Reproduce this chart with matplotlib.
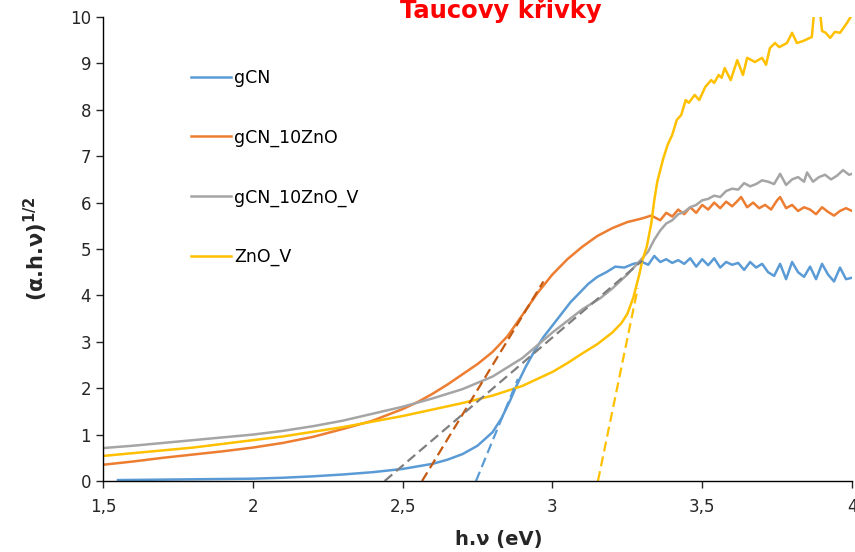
import matplotlib

matplotlib.use("Agg")
import matplotlib.pyplot as plt

plt.rcParams["font.family"] = ["DejaVu Sans"]

# --- gCN (blue) ---
gcn_x = [1.55, 1.7, 1.85, 2.0, 2.1, 2.2, 2.3, 2.4, 2.5, 2.6, 2.65, 2.7, 2.75, 2.8,
         2.83, 2.86, 2.88, 2.91, 2.94, 2.97, 3.0, 3.03, 3.06, 3.09, 3.12, 3.15, 3.18,
         3.21, 3.24, 3.27, 3.3, 3.32, 3.34, 3.36, 3.38, 3.40, 3.42, 3.44, 3.46, 3.48,
         3.50, 3.52, 3.54, 3.56, 3.58, 3.60, 3.62, 3.64, 3.66, 3.68, 3.70, 3.72, 3.74,
         3.76, 3.78, 3.80, 3.82, 3.84, 3.86, 3.88, 3.90, 3.92, 3.94, 3.96, 3.98, 4.0]
gcn_y = [0.02, 0.03, 0.04, 0.05, 0.07, 0.1, 0.14, 0.19, 0.26, 0.37, 0.46, 0.58, 0.76, 1.05,
         1.35, 1.75, 2.05, 2.45, 2.8, 3.1, 3.35, 3.6, 3.85, 4.05, 4.25, 4.4, 4.5,
         4.62, 4.6, 4.68, 4.72, 4.66, 4.85, 4.72, 4.78, 4.7, 4.76, 4.68, 4.8, 4.62,
         4.78, 4.65, 4.8, 4.6, 4.72, 4.66, 4.7, 4.55, 4.72, 4.6, 4.68, 4.5, 4.42,
         4.68, 4.35, 4.72, 4.5, 4.4, 4.62, 4.35, 4.68, 4.45, 4.3, 4.6, 4.35, 4.38]

# --- gCN_10ZnO (orange) ---
zno10_x = [1.5, 1.6, 1.7, 1.8, 1.9, 2.0, 2.1, 2.2, 2.3, 2.4, 2.5, 2.55, 2.6, 2.65, 2.7,
           2.75, 2.8, 2.85, 2.9, 2.95, 3.0, 3.05, 3.1, 3.15, 3.2, 3.25, 3.3, 3.33, 3.36,
           3.38, 3.40, 3.42, 3.44, 3.46, 3.48, 3.50, 3.52, 3.54, 3.56, 3.58, 3.60, 3.62,
           3.63, 3.65, 3.67, 3.69, 3.71, 3.73, 3.75, 3.76, 3.78, 3.80, 3.82, 3.84, 3.86,
           3.88, 3.90, 3.92, 3.94, 3.96, 3.98, 4.0]
zno10_y = [0.35, 0.42, 0.5, 0.57, 0.64, 0.72, 0.82, 0.95, 1.12, 1.3, 1.55, 1.7, 1.88, 2.08, 2.3,
           2.52, 2.78, 3.12, 3.58, 4.05, 4.45, 4.78, 5.05, 5.28, 5.45, 5.58, 5.66, 5.72, 5.62,
           5.78, 5.7, 5.85, 5.75, 5.9, 5.78, 5.95, 5.85, 6.0, 5.88, 6.02, 5.92, 6.05,
           6.12, 5.9, 6.0, 5.88, 5.95, 5.85, 6.05, 6.12, 5.88, 5.95, 5.82, 5.9, 5.85,
           5.75, 5.9, 5.8, 5.72, 5.82, 5.88, 5.82]

# --- gCN_10ZnO_V (grey) ---
zno10v_x = [1.5, 1.6, 1.7, 1.8, 1.9, 2.0, 2.1, 2.2, 2.3, 2.4, 2.5, 2.6, 2.7, 2.8, 2.9, 3.0,
            3.1, 3.16, 3.2, 3.25, 3.3, 3.32, 3.34, 3.36, 3.38, 3.40, 3.42, 3.44, 3.46,
            3.48, 3.50, 3.52, 3.54, 3.56, 3.58, 3.60, 3.62, 3.64, 3.66, 3.68, 3.70, 3.72,
            3.74, 3.76, 3.78, 3.80, 3.82, 3.84, 3.85, 3.87, 3.89, 3.91, 3.93, 3.95, 3.97,
            3.99, 4.0]
zno10v_y = [0.71, 0.76, 0.82, 0.88, 0.94, 1.0, 1.08, 1.18, 1.3, 1.45, 1.6, 1.78, 1.98, 2.25, 2.65, 3.2,
            3.7, 3.94, 4.15, 4.45, 4.8, 4.95, 5.2, 5.4, 5.55, 5.62, 5.75, 5.8, 5.9,
            5.95, 6.05, 6.08, 6.15, 6.12, 6.25, 6.3, 6.28, 6.42, 6.35, 6.4, 6.48, 6.45,
            6.4, 6.62, 6.38, 6.5, 6.55, 6.45, 6.65, 6.45, 6.55, 6.6, 6.5, 6.58, 6.7,
            6.6, 6.62]

# --- ZnO_V (yellow) ---
znov_x = [1.5, 1.6, 1.7, 1.8, 1.9, 2.0, 2.1, 2.2, 2.3, 2.4, 2.5, 2.6, 2.7, 2.8, 2.9, 3.0,
          3.05, 3.1, 3.15, 3.2, 3.23, 3.25, 3.27, 3.29, 3.30, 3.315, 3.33, 3.34, 3.35, 3.36,
          3.37, 3.385, 3.40, 3.415, 3.43, 3.445, 3.455, 3.475, 3.49, 3.51, 3.53, 3.54,
          3.555, 3.565, 3.575, 3.595, 3.617, 3.636, 3.65, 3.676, 3.70, 3.713, 3.726,
          3.743, 3.757, 3.783, 3.80, 3.816, 3.836, 3.866, 3.876, 3.89, 3.90, 3.912,
          3.927, 3.943, 3.96, 3.983, 4.0]
znov_y = [0.54, 0.6, 0.66, 0.72, 0.8, 0.88, 0.96, 1.06, 1.16, 1.28, 1.4, 1.54, 1.68, 1.84, 2.05, 2.35,
          2.54, 2.75, 2.95, 3.2, 3.4, 3.6, 3.95, 4.45, 4.75, 5.05, 5.55, 6.05, 6.45, 6.7,
          6.95, 7.25, 7.46, 7.78, 7.89, 8.21, 8.15, 8.32, 8.21, 8.49, 8.64, 8.58,
          8.75, 8.69, 8.9, 8.64, 9.07, 8.75, 9.12, 9.03, 9.12, 8.97, 9.33,
          9.44, 9.35, 9.44, 9.66, 9.44, 9.48, 9.57, 10.3, 10.3, 9.7, 9.66,
          9.55, 9.68, 9.66, 9.87, 10.05]

# tangent (Tauc extrapolation) lines: x-intercept -> end point
tan_blue = ([2.745, 2.885], [0, 2.2])
tan_orange = ([2.565, 2.97], [0, 4.3])
tan_grey = ([2.44, 3.30], [0, 4.75])
tan_yellow = ([3.152, 3.285], [0, 4.16])

xticks = [1.5, 2, 2.5, 3, 3.5, 4]
xtick_labels = ["1,5", "2", "2,5", "3", "3,5", "4"]
yticks = list(range(0, 11))

BLUE, ORANGE, GREY, YELLOW = "#5B9BD5", "#ED7D31", "#A5A5A5", "#FFC000"
TXT = "#262626"

fig = plt.figure(figsize=(8.55, 5.52), dpi=100)
ax = fig.add_axes([103 / 855, 71 / 552, 749 / 855, 464 / 552])

lw = 1.8
ax.plot(gcn_x, gcn_y, color=BLUE, lw=lw, label="gCN")
ax.plot(zno10_x, zno10_y, color=ORANGE, lw=lw, label="gCN_10ZnO")
ax.plot(zno10v_x, zno10v_y, color=GREY, lw=lw, label="gCN_10ZnO_V")
ax.plot(znov_x, znov_y, color=YELLOW, lw=lw, label="ZnO_V")

dash = (0, (4.5, 2.3))
ax.plot(*tan_blue, color=BLUE, lw=1.6, linestyle=dash)
ax.plot(*tan_orange, color="#C55A11", lw=1.6, linestyle=dash)
ax.plot(*tan_grey, color="#7F7F7F", lw=1.6, linestyle=dash)
ax.plot(*tan_yellow, color=YELLOW, lw=1.6, linestyle=dash)

ax.set_xlim(1.5, 4)
ax.set_ylim(0, 10)
ax.set_xticks(xticks)
ax.set_xticklabels(xtick_labels)
ax.set_yticks(yticks)
ax.tick_params(labelsize=12, colors=TXT, length=5, width=1, direction="out")
ax.tick_params(axis="x", pad=7)
for s in ("top", "right"):
    ax.spines[s].set_visible(False)
for s in ("left", "bottom"):
    ax.spines[s].set_linewidth(1)

ax.set_xlabel("h.ν (eV)", fontsize=14, fontweight="bold", color=TXT)
ax.xaxis.set_label_coords(0.529, -0.105)
ax.set_ylabel(r"(α.h.ν)$^{\mathbf{1/2}}$", fontsize=15, fontweight="bold", color=TXT)
ax.yaxis.set_label_coords(-0.071, 0.5)

ax.legend(loc="upper left", bbox_to_anchor=((191 - 103) / 749, (481 - 69) / 464),
          frameon=False, fontsize=12.5, handlelength=2.3, handletextpad=0.2,
          labelspacing=2.39, borderpad=0, borderaxespad=0)

fig.text(501 / 855, 0.968, "Taucovy křivky", color="red", fontsize=17.5,
         fontweight="bold", ha="center", va="baseline")

fig.savefig("out.png", dpi=100)
